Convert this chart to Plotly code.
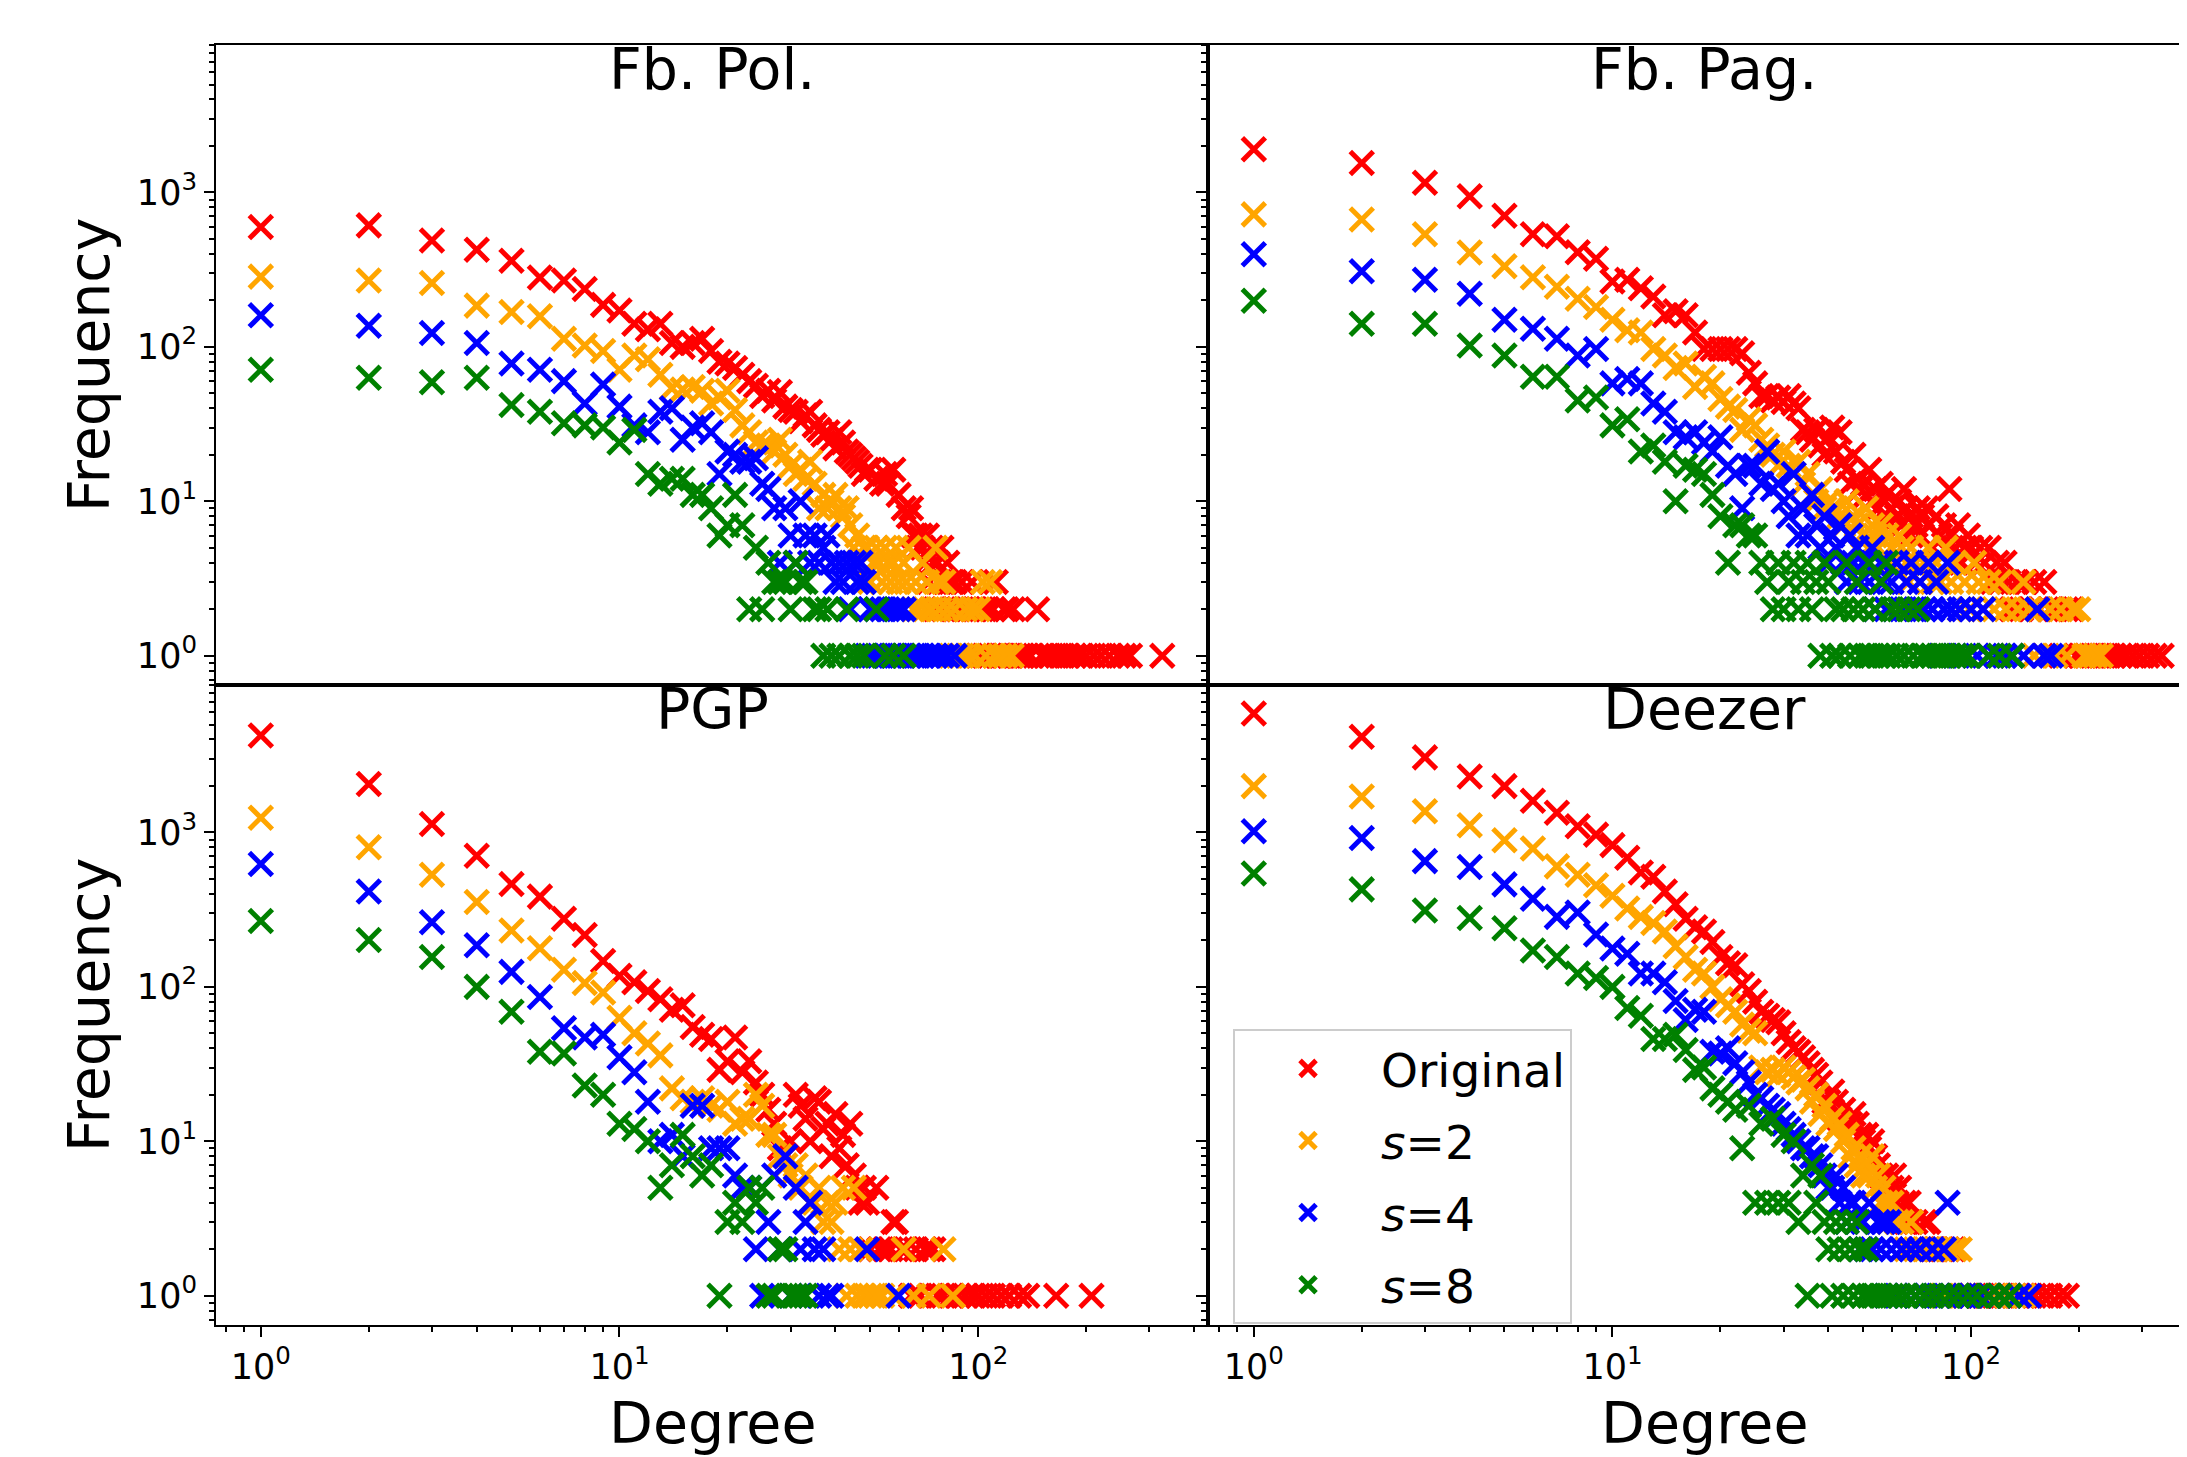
import plotly.graph_objects as go

# ---------------- data: (degree, frequency) ----------------
fbpol_original = [(1,597),(2,612),(3,489),(4,426),(5,361),(6,281),(7,269),(8,237),(9,187),(10,172),(11,141),(12,130),(13,141),(14,106),(15,100),(16,106),(17,113),(18,94),(19,80),(20,78),(21,73),(22,66),(23,60),(24,56),(25,48),(26,52),(27,45),(28,51),(29,41),(30,39),(31,38),(32,33),(33,36),(34,38),(35,31),(36,29),(37,27),(38,28),(39,25),(40,22),(41,28),(42,24),(43,21),(44,20),(45,19),(46,18),(47,17),(48,15),(49,16),(50,16),(52,14),(54,13),(55,15),(56,13),(58,16),(60,11),(62,9),(64,8),(65,9),(66,6),(67,6),(68,5),(69,6),(70,5),(71,4),(72,6),(73,3),(74,5),(75,4),(76,2),(77,4),(78,3),(79,5),(80,2),(81,3),(82,4),(84,3),(85,2),(86,3),(88,2),(90,3),(92,2),(94,2),(96,3),(98,2),(100,1),(102,2),(104,1),(106,2),(108,1),(110,2),(112,3),(114,1),(116,1),(118,2),(120,2),(122,1),(125,2),(127,1),(130,1),(133,1),(136,1),(140,1),(146,2),(150,1),(155,1),(160,1),(166,1),(172,1),(178,1),(185,1),(192,1),(200,1),(210,1),(220,1),(232,1),(245,1),(255,1),(265,1),(326,1)]
fbpol_s2 = [(1,285),(2,269),(3,259),(4,185),(5,168),(6,158),(7,113),(8,102),(9,94),(10,71),(11,88),(12,83),(13,66),(14,54),(15,53),(16,55),(17,52),(18,43),(19,47),(20,52),(21,39),(22,31),(23,28),(24,24),(25,23),(26,23),(27,21),(28,25),(29,20),(30,17),(31,15),(32,16),(33,14),(34,18),(35,13),(36,9),(37,11),(38,9),(39,10),(40,11),(41,9),(42,8),(43,9),(44,7),(45,5),(46,6),(47,4),(48,5),(49,5),(50,3),(51,4),(52,5),(53,4),(54,3),(55,5),(56,4),(57,3),(58,4),(59,5),(60,3),(62,4),(63,3),(64,5),(66,2),(67,3),(68,2),(70,4),(71,2),(72,3),(74,2),(76,5),(77,3),(78,2),(80,3),(82,2),(84,1),(86,2),(88,1),(90,1),(92,2),(94,1),(96,2),(98,1),(100,2),(103,3),(105,1),(108,3),(111,1),(115,1),(119,1),(124,1)]
fbpol_s4 = [(1,160),(2,137),(3,123),(4,106),(5,78),(6,71),(7,60),(8,43),(9,57),(10,41),(11,31),(12,28),(13,38),(14,40),(15,25),(16,30),(17,32),(18,28),(19,15),(20,21),(21,20),(22,18),(23,18),(24,19),(25,13),(26,12),(27,9),(28,4),(29,9),(30,6),(31,4),(32,10),(33,6),(34,4),(35,6),(36,4),(37,5),(38,6),(39,4),(40,3),(41,4),(42,3),(43,4),(44,2),(45,4),(46,3),(47,4),(48,3),(49,1),(50,2),(51,1),(52,2),(53,1),(54,2),(55,1),(56,2),(57,1),(58,2),(59,1),(60,2),(61,1),(62,2),(64,1),(66,1),(68,1),(70,1),(73,1),(76,1),(79,1),(82,1),(86,1)]
fbpol_s8 = [(1,71),(2,63),(3,59),(4,63),(5,42),(6,38),(7,32),(8,31),(9,30),(10,24),(11,29),(12,15),(13,13),(14,14),(15,14),(16,11),(17,11),(18,9),(19,6),(20,7),(21,11),(22,7),(23,2),(24,5),(25,2),(26,4),(27,3),(28,3),(29,3),(30,2),(31,4),(32,3),(33,3),(35,2),(36,2),(37,1),(38,2),(39,1),(41,1),(43,2),(44,1),(46,1),(48,1),(52,2),(55,1),(58,1),(62,1)]

fbpag_original = [(1,1906),(2,1552),(3,1154),(4,945),(5,706),(6,537),(7,520),(8,410),(9,372),(10,265),(11,272),(12,240),(13,212),(14,160),(15,170),(16,160),(17,124),(18,97),(19,97),(20,97),(21,97),(22,97),(23,91),(24,68),(25,58),(26,48),(27,48),(28,45),(29,47),(30,44),(31,48),(32,43),(33,40),(34,29),(35,28),(36,25),(37,29),(38,23),(39,20),(40,26),(41,30),(42,21),(43,28),(44,18),(45,16),(46,13),(47,20),(48,14),(49,12),(50,13),(51,11),(52,16),(53,10),(54,12),(55,9),(56,13),(57,8),(58,11),(59,7),(60,9),(62,8),(63,10),(64,7),(65,12),(66,9),(67,8),(68,6),(70,7),(71,9),(72,6),(73,8),(75,9),(76,7),(78,5),(80,8),(82,6),(84,7),(86,5),(87,12),(88,6),(90,5),(92,7),(94,4),(96,5),(98,6),(100,5),(103,4),(106,5),(109,4),(112,5),(115,3),(118,4),(121,3),(124,4),(127,3),(130,2),(134,3),(138,2),(142,3),(146,2),(150,3),(155,2),(160,3),(166,2),(172,2),(178,1),(184,2),(190,2),(196,1),(203,1),(210,1),(218,1),(226,1),(234,1),(242,1),(250,1),(260,1),(270,1),(282,1),(295,1),(310,1),(325,1),(340,1)]
fbpag_s2 = [(1,721),(2,669),(3,536),(4,408),(5,333),(6,282),(7,245),(8,205),(9,181),(10,150),(11,128),(12,124),(13,97),(14,88),(15,73),(16,78),(17,55),(18,64),(19,58),(20,46),(21,41),(22,39),(23,29),(24,34),(25,31),(26,25),(27,23),(28,20),(29,17),(30,21),(31,17),(32,15),(33,18),(34,13),(35,15),(36,11),(37,10),(38,12),(39,9),(40,10),(41,9),(42,9),(43,8),(44,7),(45,10),(46,6),(47,8),(48,7),(50,6),(51,9),(52,5),(53,7),(54,6),(55,5),(56,7),(58,6),(59,4),(60,5),(62,4),(63,6),(64,5),(66,4),(67,3),(68,5),(70,4),(72,3),(74,4),(76,5),(78,3),(80,4),(82,3),(85,5),(88,3),(90,4),(93,2),(96,3),(99,2),(102,4),(105,3),(108,2),(112,3),(116,2),(120,3),(125,2),(130,1),(135,2),(140,3),(145,2),(150,1),(155,2),(160,1),(166,2),(172,1),(178,2),(185,1),(192,2),(199,2),(207,1),(215,1),(222,1),(230,1)]
fbpag_s4 = [(1,398),(2,309),(3,272),(4,221),(5,150),(6,131),(7,113),(8,88),(9,97),(10,58),(11,62),(12,58),(13,43),(14,38),(15,28),(16,26),(17,28),(18,24),(19,21),(20,26),(21,17),(22,15),(23,9),(24,17),(25,17),(26,13),(27,21),(28,12),(29,13),(30,10),(31,8),(32,15),(33,6),(34,9),(35,6),(36,11),(37,7),(38,5),(39,8),(40,4),(41,6),(42,5),(43,7),(44,4),(45,3),(46,6),(47,4),(48,5),(49,3),(50,4),(52,3),(53,5),(54,2),(56,4),(57,3),(58,2),(60,3),(62,4),(64,2),(66,3),(68,4),(70,2),(72,3),(74,2),(76,4),(78,2),(80,3),(82,1),(84,2),(86,4),(88,2),(90,1),(93,2),(96,1),(100,2),(104,1),(108,2),(112,1),(118,1),(124,1),(130,1),(140,1),(153,2),(160,1),(167,1)]
fbpag_s8 = [(1,199),(2,141),(3,141),(4,102),(5,88),(6,64),(7,64),(8,45),(9,47),(10,31),(11,34),(12,21),(13,23),(14,18),(15,10),(16,17),(17,16),(18,15),(19,11),(20,8),(21,4),(22,7),(23,7),(24,6),(25,6),(26,4),(27,3),(28,2),(29,4),(30,2),(31,3),(32,4),(33,2),(34,3),(35,4),(36,2),(37,3),(38,1),(39,4),(40,3),(41,1),(42,2),(43,1),(44,2),(45,4),(46,1),(47,2),(48,3),(49,1),(50,2),(51,1),(52,4),(53,1),(54,2),(55,1),(56,3),(57,1),(58,4),(59,1),(60,2),(62,1),(63,2),(65,1),(67,2),(69,1),(71,2),(73,1),(75,1),(78,1),(81,1),(84,1),(87,1),(90,1),(94,1),(98,1),(112,1),(120,1),(130,1)]

pgp_original = [(1,4250),(2,2062),(3,1135),(4,707),(5,464),(6,384),(7,276),(8,217),(9,147),(10,118),(11,107),(12,94),(13,83),(14,71),(15,76),(16,55),(17,49),(18,46),(19,29),(20,33),(21,47),(22,28),(23,33),(24,24),(25,20),(26,16),(27,13),(28,9),(29,8),(30,10),(31,20),(32,17),(33,14),(34,10),(35,19),(36,18),(37,12),(38,13),(39,8),(40,15),(41,9),(42,11),(43,7),(44,13),(45,6),(46,5),(47,4),(48,5),(49,4),(50,2),(52,5),(53,2),(55,2),(57,2),(58,3),(59,3),(61,2),(63,2),(65,1),(67,2),(69,1),(71,2),(73,2),(75,2),(77,1),(80,1),(84,1),(88,1),(92,1),(96,1),(100,1),(105,1),(110,1),(116,1),(122,1),(130,1),(137,1),(165,1),(207,1)]
pgp_s2 = [(1,1247),(2,802),(3,533),(4,354),(5,232),(6,178),(7,129),(8,106),(9,92),(10,63),(11,50),(12,43),(13,36),(14,22),(15,19),(16,18),(17,19),(18,17),(19,16),(20,18),(21,13),(22,14),(23,14),(24,20),(25,17),(26,11),(27,11),(28,8),(29,7),(30,6),(31,7),(32,5),(33,6),(34,4),(35,4),(36,5),(37,3),(38,4),(39,3),(40,4),(41,2),(42,5),(43,1),(44,2),(45,5),(46,1),(47,2),(48,1),(50,1),(52,1),(54,1),(58,1),(62,2),(66,1),(73,1),(80,2),(85,1)]
pgp_s4 = [(1,624),(2,415),(3,262),(4,186),(5,125),(6,86),(7,54),(8,47),(9,49),(10,35),(11,28),(12,18),(13,10),(14,11),(15,8),(16,17),(17,17),(18,9),(19,9),(20,9),(21,6),(22,5),(23,5),(24,2),(25,1),(26,3),(27,6),(28,2),(29,8),(30,1),(31,5),(32,2),(33,3),(34,4),(35,2),(36,1),(37,2),(38,1),(39,1),(49,2),(60,1)]
pgp_s8 = [(1,267),(2,201),(3,156),(4,100),(5,69),(6,38),(7,37),(8,23),(9,20),(10,13),(11,12),(12,10),(13,5),(14,7),(15,11),(16,8),(17,6),(18,7),(19,1),(20,3),(21,4),(22,3),(23,5),(24,4),(25,5),(26,1),(27,1),(28,2),(29,2),(30,1),(31,1),(32,1),(33,1)]

deezer_original = [(1,5900),(2,4170),(3,3063),(4,2307),(5,1995),(6,1603),(7,1343),(8,1098),(9,968),(10,828),(11,686),(12,550),(13,517),(14,414),(15,343),(16,276),(17,243),(18,228),(19,195),(20,156),(21,142),(22,138),(23,104),(24,94),(25,80),(26,69),(27,65),(28,61),(29,59),(30,50),(31,44),(32,40),(33,38),(34,35),(35,32),(36,29),(37,27),(38,24),(39,18),(40,18),(41,21),(42,18),(43,14),(44,16),(45,13),(46,13),(47,15),(48,13),(49,11),(50,10),(51,11),(52,9),(53,10),(54,8),(55,7),(56,6),(57,5),(58,6),(59,4),(60,5),(61,6),(62,4),(63,5),(64,3),(65,4),(66,3),(67,4),(68,3),(70,3),(72,2),(74,3),(76,3),(78,2),(80,2),(83,2),(86,2),(89,2),(92,1),(96,1),(100,1),(105,1),(110,1),(116,1),(122,1),(128,1),(135,1),(142,1),(150,1),(158,1),(166,1),(176,1),(185,1)]
deezer_s2 = [(1,1995),(2,1708),(3,1370),(4,1112),(5,891),(6,787),(7,603),(8,533),(9,455),(10,389),(11,322),(12,284),(13,259),(14,228),(15,183),(16,156),(17,129),(18,122),(19,100),(20,83),(21,76),(22,69),(23,57),(24,52),(25,50),(26,30),(27,28),(28,29),(29,27),(30,30),(31,28),(32,26),(33,24),(34,25),(35,22),(36,18),(37,20),(38,15),(39,17),(40,13),(41,14),(42,12),(43,13),(44,10),(45,11),(46,8),(47,9),(48,7),(49,8),(50,6),(51,7),(52,6),(53,8),(54,5),(55,6),(56,4),(57,5),(58,4),(59,3),(60,4),(62,3),(64,3),(66,2),(68,3),(70,2),(72,2),(74,2),(77,2),(80,2),(83,1),(86,2),(90,2),(93,2),(96,1),(100,1),(106,1),(112,1),(118,1),(125,1),(132,1),(140,1)]
deezer_s4 = [(1,1019),(2,921),(3,652),(4,597),(5,461),(6,372),(7,284),(8,303),(9,218),(10,177),(11,164),(12,122),(13,122),(14,107),(15,81),(16,61),(17,71),(18,69),(19,38),(20,37),(21,40),(22,32),(23,28),(24,24),(25,20),(26,19),(27,17),(28,16),(29,15),(30,13),(31,12),(32,11),(33,10),(34,9),(35,9),(36,8),(37,8),(38,7),(39,6),(40,5),(41,5),(42,6),(43,4),(44,5),(45,3),(46,4),(47,4),(48,3),(49,2),(50,3),(51,2),(52,4),(53,2),(55,3),(56,2),(57,3),(58,1),(59,3),(60,2),(62,1),(64,2),(66,1),(68,2),(70,1),(72,2),(75,1),(78,2),(81,1),(84,2),(86,4),(88,1),(92,1),(96,1),(100,1),(106,1),(112,1),(120,1),(128,1),(136,1),(145,1)]
deezer_s8 = [(1,543),(2,428),(3,312),(4,279),(5,240),(6,172),(7,156),(8,122),(9,114),(10,100),(11,73),(12,65),(13,46),(14,46),(15,49),(16,39),(17,29),(18,30),(19,22),(20,20),(21,18),(22,16),(23,9),(24,17),(25,4),(26,13),(27,4),(28,14),(29,4),(30,11),(31,4),(32,10),(33,3),(34,6),(35,1),(36,7),(37,4),(38,6),(39,3),(40,2),(41,1),(42,3),(43,2),(44,1),(45,3),(46,2),(47,1),(48,3),(49,2),(50,1),(51,2),(52,1),(54,1),(56,1),(58,1),(60,1),(63,1),(66,1),(70,1),(74,1),(78,1),(82,1),(87,1),(92,1),(98,1),(104,1),(112,1),(120,1),(128,1)]

panel_titles = ["Fb. Pol.", "Fb. Pag.", "PGP", "Deezer"]
panel_series = [
    [fbpol_original, fbpol_s2, fbpol_s4, fbpol_s8],
    [fbpag_original, fbpag_s2, fbpag_s4, fbpag_s8],
    [pgp_original, pgp_s2, pgp_s4, pgp_s8],
    [deezer_original, deezer_s2, deezer_s4, deezer_s8],
]
series_names = ["Original", "<i>s</i>=2", "<i>s</i>=4", "<i>s</i>=8"]
series_colors = ["#ff0000", "#ffa500", "#0000ff", "#008000"]

x_major = [1, 10, 100]
x_major_text = ["10<sup>0</sup>", "10<sup>1</sup>", "10<sup>2</sup>"]
y_major = [1, 10, 100, 1000]
y_major_text = ["10<sup>0</sup>", "10<sup>1</sup>", "10<sup>2</sup>", "10<sup>3</sup>"]
x_minor = [0.8, 0.9] + [m * 10 ** e for e in range(0, 3) for m in range(2, 10)]
y_minor = [0.7, 0.8, 0.9] + [m * 10 ** e for e in range(0, 4) for m in range(2, 10)]

# ---------------- figure ----------------
# the page body adds an 8px offset; size the figure so the plot lands where the reference has it
OFF = 8
W, H = 2187 - OFF, 1457 - OFF
ML, MR, MT, MB = 216 - OFF, 0, 45 - OFF, 132
FONT = "DejaVu Sans"
split = 992 / (W - ML - MR)
right_center = (split + (split + 992 / (W - ML - MR))) / 2

fig = go.Figure()
for p, series in enumerate(panel_series):
    xa = "x" if p == 0 else "x%d" % (p + 1)
    ya = "y" if p == 0 else "y%d" % (p + 1)
    for s, pts in enumerate(series):
        fig.add_trace(go.Scatter(
            x=[d for d, f in pts], y=[f for d, f in pts],
            mode="markers", xaxis=xa, yaxis=ya,
            name=series_names[s], legendgroup=series_names[s],
            showlegend=(p == 3),
            marker=dict(symbol="x-thin", size=23, color=series_colors[s],
                        line=dict(width=5, color=series_colors[s])),
        ))

def xaxis(domain, rng, anchor, bottom):
    d = dict(type="log", domain=domain, range=rng, anchor=anchor,
             showline=True, linecolor="black", linewidth=2, mirror=True,
             showgrid=False, zeroline=False)
    if bottom:
        d.update(ticks="outside", ticklen=10, tickwidth=2, tickcolor="black",
                 tickmode="array", tickvals=x_major, ticktext=x_major_text,
                 tickfont=dict(family=FONT, size=35, color="black"),
                 minor=dict(ticks="outside", ticklen=5, tickwidth=1.5, tickcolor="black",
                            tickmode="array", tickvals=x_minor, showgrid=False))
    else:
        d.update(ticks="", showticklabels=False)
    return d

def yaxis(domain, anchor, left):
    d = dict(type="log", domain=domain, range=[-0.19, 3.955], anchor=anchor,
             showline=True, linecolor="black", linewidth=2, mirror=left,
             showgrid=False, zeroline=False,
             ticks="outside", ticklen=10, tickwidth=2, tickcolor="black",
             tickmode="array", tickvals=y_major, ticktext=y_major_text,
             showticklabels=left,
             tickfont=dict(family=FONT, size=35, color="black"),
             minor=dict(ticks="outside", ticklen=5, tickwidth=1.5, tickcolor="black",
                        tickmode="array", tickvals=y_minor, showgrid=False))
    return d

xl = [-0.1249, 2.6407]
xr = [-0.1277, 2.602]
fig.update_layout(
    xaxis=xaxis([0, split], xl, "y", False),
    xaxis2=xaxis([split, 1], xr, "y2", False),
    xaxis3=xaxis([0, split], xl, "y3", True),
    xaxis4=xaxis([split, 1], xr, "y4", True),
    yaxis=yaxis([0.5, 1], "x", True),
    yaxis2=yaxis([0.5, 1], "x2", False),
    yaxis3=yaxis([0, 0.5], "x3", True),
    yaxis4=yaxis([0, 0.5], "x4", False),
)

ann = []
title_pos = [(split / 2, 0.9813), (right_center, 0.9813),
             (split / 2, 0.481), (right_center, 0.481)]
for t, (x, y) in zip(panel_titles, title_pos):
    ann.append(dict(text=t, x=x, y=y, xref="paper", yref="paper", showarrow=False,
                    xanchor="center", yanchor="middle",
                    font=dict(family=FONT, size=57, color="black")))
for y in (0.75, 0.25):
    ann.append(dict(text="Frequency", x=-0.0644, y=y, xref="paper", yref="paper",
                    showarrow=False, textangle=-90, xanchor="center", yanchor="middle",
                    font=dict(family=FONT, size=57, color="black")))
for x in (split / 2, right_center):
    ann.append(dict(text="Degree", x=x, y=-0.0766, xref="paper", yref="paper",
                    showarrow=False, xanchor="center", yanchor="middle",
                    font=dict(family=FONT, size=57, color="black")))

fig.update_layout(
    width=W, height=H,
    margin=dict(l=ML, r=MR, t=MT, b=MB, pad=0),
    paper_bgcolor="white", plot_bgcolor="white",
    font=dict(family=FONT, color="black"),
    annotations=ann,
    showlegend=True,
    legend=dict(x=0.516, y=0.231, xanchor="left", yanchor="top",
                bgcolor="rgba(255,255,255,0.8)", bordercolor="#cccccc", borderwidth=2,
                font=dict(family=FONT, size=47, color="black"),
                traceorder="grouped", tracegroupgap=8, itemwidth=136),
)

fig.write_html("out.html")
